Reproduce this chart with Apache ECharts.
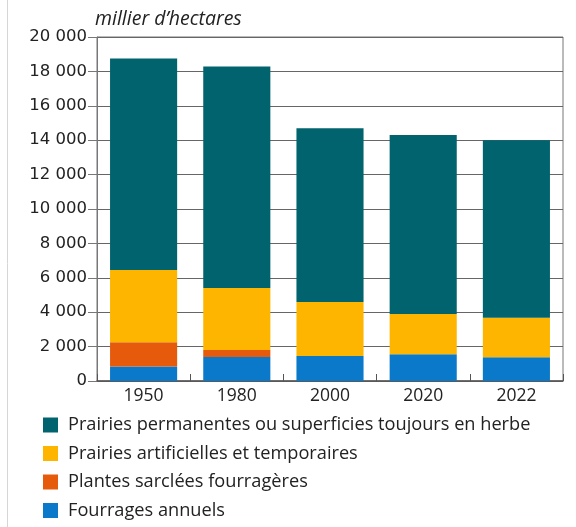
<!DOCTYPE html>
<html>
<head>
<meta charset="utf-8">
<script src="https://cdn.jsdelivr.net/npm/echarts@6/dist/echarts.min.js"></script>
<style>
  html, body { margin: 0; padding: 0; background: #fff; }
  #chart { width: 576px; height: 527px; }
</style>
</head>
<body>
<div id="chart"></div>
<script>
// Surfaces fourragères, en milliers d'hectares
const years = ['1950', '1980', '2000', '2020', '2022'];
const fourragesAnnuels = [850, 1400, 1450, 1550, 1380];
const plantesSarclees = [1400, 400, 0, 0, 0];
const prairiesArtificielles = [4200, 3600, 3150, 2350, 2300];
const prairiesPermanentes = [12300, 12880, 10100, 10400, 10320];
const yTicks = [0, 2000, 4000, 6000, 8000, 10000, 12000, 14000, 16000, 18000, 20000];

const names = {
  perm: 'Prairies permanentes ou superficies toujours en herbe',
  art: 'Prairies artificielles et temporaires',
  sarc: 'Plantes sarclées fourragères',
  ann: 'Fourrages annuels'
};
const colors = {
  perm: '#00636e',
  art: '#fdb500',
  sarc: '#e55b0b',
  ann: '#0a79c9'
};

const font = '"Open Sans", Lato, sans-serif';
const numFont = '"DejaVu Sans", "Open Sans", sans-serif';
// Thousands separated by a space, French style
const fmt = v => String(v).replace(/\B(?=(\d{3})+(?!\d))/g, '\u00a0');

function bar(key, data) {
  return {
    name: names[key],
    type: 'bar',
    stack: 'total',
    data: data,
    barWidth: '72%',
    itemStyle: { color: colors[key] }
  };
}

const chart = echarts.init(document.getElementById('chart'));
chart.setOption({
  animation: false,
  textStyle: { fontFamily: font },
  graphic: [{
    type: 'line',
    shape: { x1: 7.5, y1: 0, x2: 7.5, y2: 527 },
    style: { stroke: '#d6d6d6', lineWidth: 1 }
  }],
  grid: { left: 97, right: 13, top: 37, bottom: 146, show: true, borderColor: '#777', borderWidth: 1 },
  xAxis: {
    type: 'category',
    data: years,
    axisLine: { lineStyle: { color: '#555', width: 1.5 } },
    axisTick: { show: true, inside: true, length: 7, lineStyle: { color: '#555' } },
    axisLabel: { color: '#222', fontSize: 17.5, margin: 6, fontFamily: font }
  },
  yAxis: {
    type: 'value',
    min: yTicks[0],
    max: yTicks[yTicks.length - 1],
    interval: 2000,
    name: 'millier d\u2019hectares',
    nameLocation: 'end',
    nameGap: 8,
    nameTextStyle: { color: '#222', fontSize: 19.5, fontStyle: 'italic', align: 'left', padding: [0, 0, 0, -2], fontFamily: font },
    axisLine: { show: true, lineStyle: { color: '#777', width: 1 } },
    axisTick: { show: true, length: 9, lineStyle: { color: '#777' } },
    axisLabel: { color: '#222', fontSize: 16.5, margin: 10, formatter: fmt, fontFamily: numFont },
    splitLine: { show: true, lineStyle: { color: '#666', width: 1 } }
  },
  legend: {
    orient: 'vertical',
    left: 38,
    top: 411,
    itemWidth: 15,
    itemHeight: 15,
    itemGap: 10.5,
    icon: 'rect',
    data: [names.perm, names.art, names.sarc, names.ann],
    textStyle: { color: '#222', fontSize: 18.2, padding: [0, 0, 0, 5], fontFamily: font }
  },
  series: [
    bar('ann', fourragesAnnuels),
    bar('sarc', plantesSarclees),
    bar('art', prairiesArtificielles),
    bar('perm', prairiesPermanentes)
  ]
});
</script>
</body>
</html>
